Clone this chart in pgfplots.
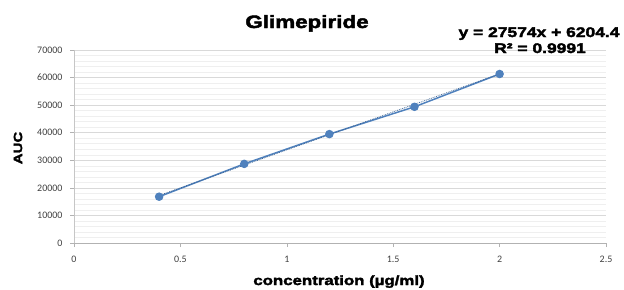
\documentclass[border=0pt]{standalone}
\usepackage{pgfplots}
\pgfplotsset{compat=1.18}
\usepackage{fontspec}
\setmainfont{Liberation Sans}
\newfontfamily\heavy{Liberation Sans}[UprightFont=* Bold, FakeBold=2.5, FakeStretch=1.25]
\newfontfamily\tickfont{Carlito}
\definecolor{exblue}{HTML}{4F81BD}
\definecolor{gridmaj}{HTML}{D9D9D9}
\definecolor{gridmin}{HTML}{EFEFEF}
\definecolor{ticktext}{HTML}{404040}
\begin{document}
\begin{tikzpicture}[x=1bp,y=1bp]
\useasboundingbox (0,0) rectangle (624,289);
\begin{axis}[
  at={(74bp,46bp)}, anchor=south west,
  scale only axis, width=532bp, height=193bp,
  xmin=0, xmax=2.5, ymin=0, ymax=70000,
  xtick={0,0.5,1,1.5,2,2.5},
  xticklabels={0,0.5,1,1.5,2,2.5},
  ytick={0,10000,...,70000},
  yticklabels={0,10000,20000,30000,40000,50000,60000,70000},
  scaled y ticks=false,
  minor y tick num=4,
  ymajorgrids, yminorgrids,
  major grid style={gridmaj, line width=0.6pt},
  minor grid style={gridmin, line width=0.5pt},
  separate axis lines,
  axis x line*=bottom,
  axis y line*=left,
  x axis line style={draw=gray!60, -},
  y axis line style={draw=gray!45, -},
  tick style={draw=gray!60, line width=0.5pt},
  major tick length=4bp,
  minor tick length=0pt,
  tick align=outside,
  ticklabel style={font=\tickfont\fontsize{10}{11}\selectfont, text=ticktext},
  xticklabel style={yshift=-6bp},
  yticklabel style={xshift=-4bp},
  clip=false,
]
\addplot[exblue, line width=1.5pt, mark=*, mark size=3.5pt, mark options={fill=exblue, draw=exblue}]
  coordinates {(0.4,16800) (0.8,28700) (1.2,39500) (1.6,49400) (2.0,61300)};
\addplot[exblue!80!black, densely dotted, line width=0.8pt]
  coordinates {(0.4,17234) (2.0,61352)};
\end{axis}
\node[font=\heavy\fontsize{18}{19}\selectfont, anchor=base] at (307,261) {Glimepiride};
\node[font=\heavy\fontsize{14}{15}\selectfont, anchor=base east] at (623,252) {y = 27574x + 6204.4};
\node[font=\heavy\fontsize{14}{15}\selectfont, anchor=base] at (540,236) {R² = 0.9991};
\node[font=\heavy\fontsize{12}{13}\selectfont, rotate=90] at (18,141) {AUC};
\node[font=\heavy\fontsize{13.5}{14}\selectfont, anchor=base] at (339,4) {concentration (µg/ml)};
\end{tikzpicture}
\end{document}
